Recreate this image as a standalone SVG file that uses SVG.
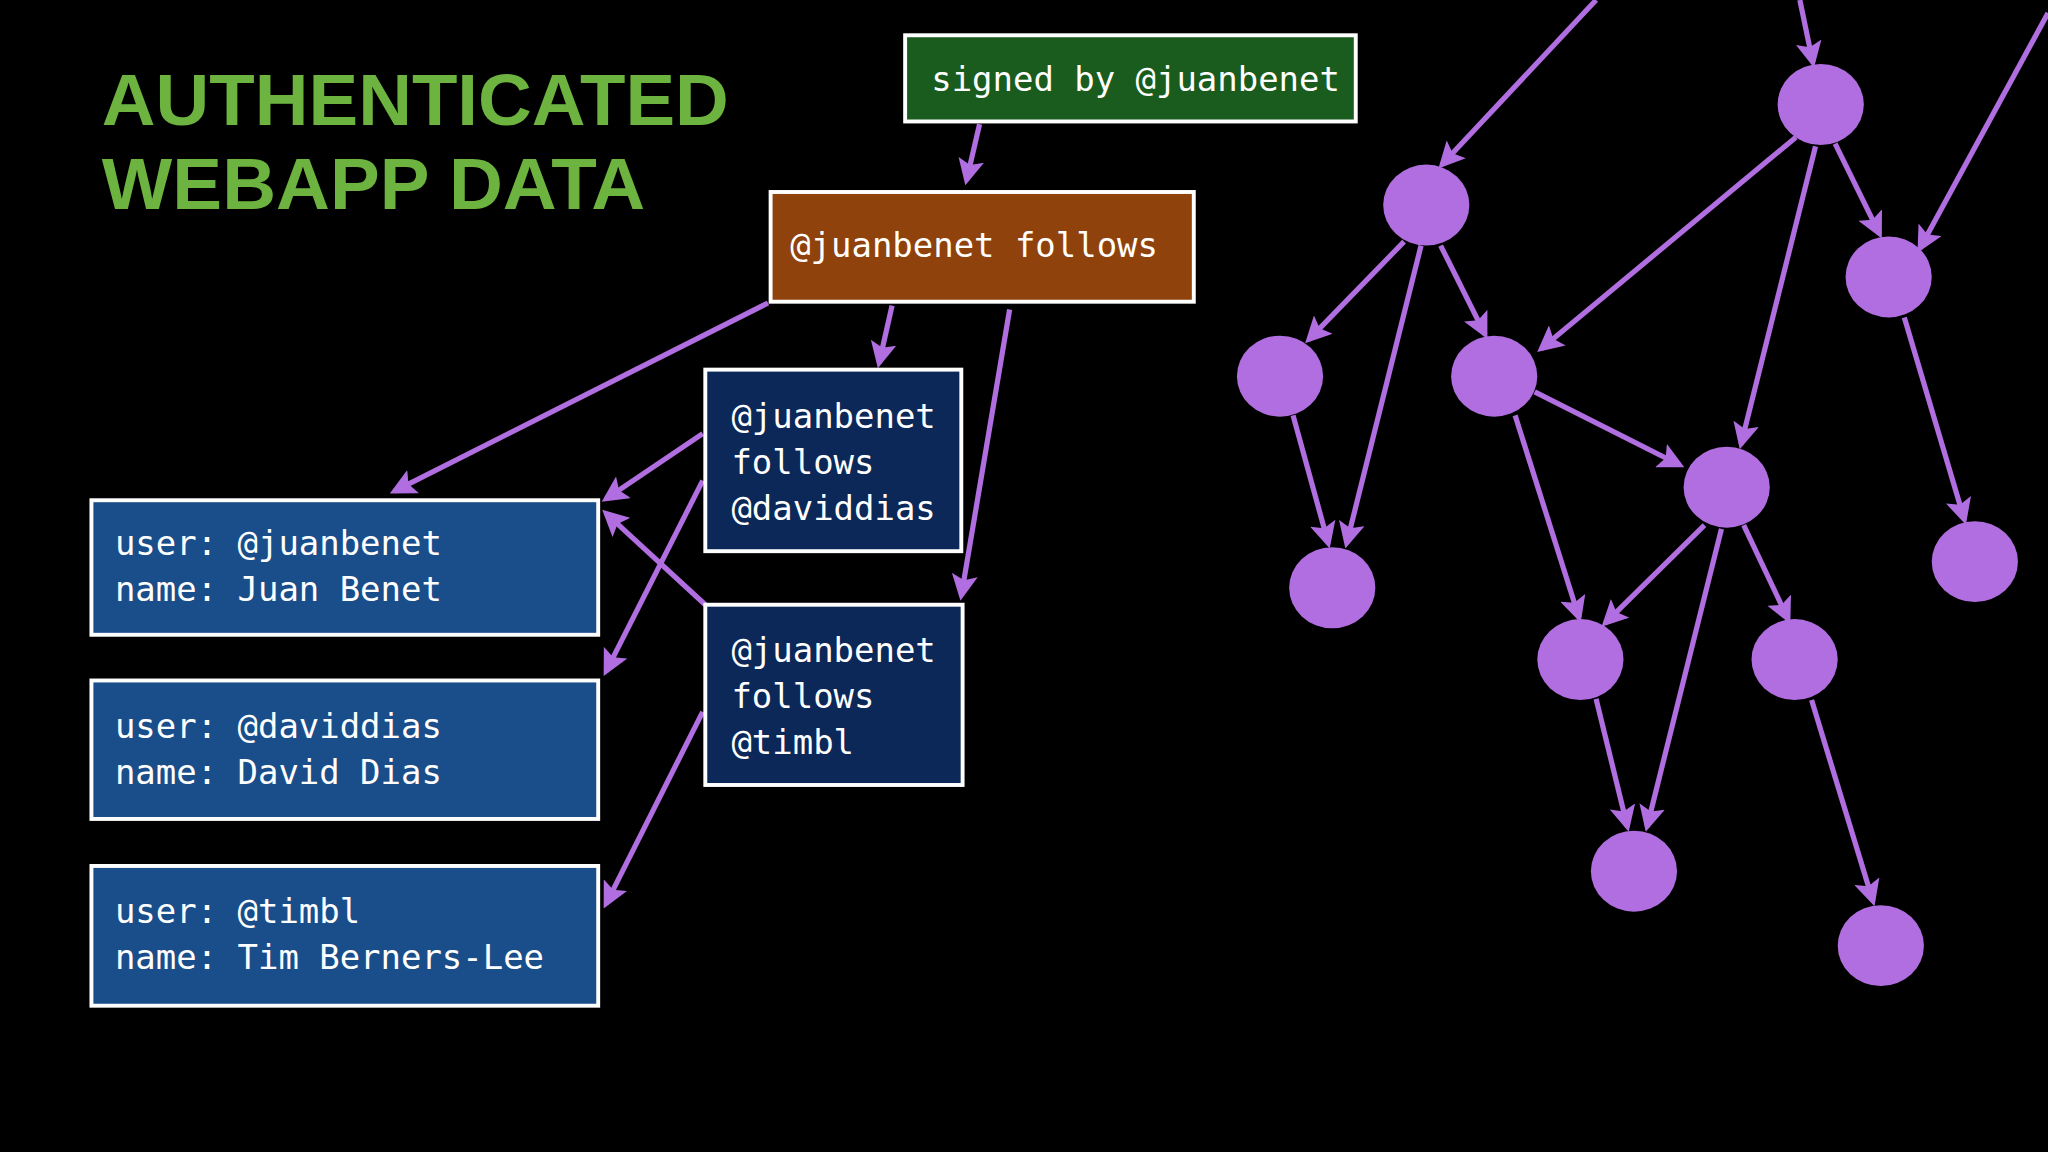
<svg xmlns="http://www.w3.org/2000/svg" width="2048" height="1152" viewBox="0 0 2048 1152">
<style>
.t{font-family:"DejaVu Sans Mono","Liberation Mono",monospace;font-size:26px;fill:#fff}
.b{stroke:#fff;stroke-width:3}
.e{stroke:#b06ee0;stroke-width:4;fill:none;marker-end:url(#a)}
.n{fill:#b06ee0}
</style>
<defs><marker id="a" viewBox="0 0 10 10" refX="8" refY="5" markerWidth="5" markerHeight="5" orient="auto" markerUnits="strokeWidth"><path d="M0,0L10,5L0,10L2,5z" fill="#b06ee0"/></marker></defs>
<rect width="2048" height="1152" fill="#000"/>
<g transform="scale(1.30612)">
<g id="title" font-family="Liberation Sans,Arial,sans-serif" font-weight="bold" font-size="56" fill="#6db33f">
<text x="78" y="96" textLength="480" lengthAdjust="spacingAndGlyphs">AUTHENTICATED</text>
<text x="78" y="160" textLength="416" lengthAdjust="spacingAndGlyphs">WEBAPP DATA</text>
</g>
<g id="connectors">
<line class="e" x1="750" y1="95" x2="740" y2="138"/>
<line class="e" x1="588" y1="232" x2="302" y2="376"/>
<line class="e" x1="683" y1="234" x2="673" y2="278"/>
<line class="e" x1="773" y1="237" x2="736" y2="456"/>
<line class="e" x1="538" y1="332" x2="464" y2="382"/>
<line class="e" x1="538" y1="368" x2="464" y2="514"/>
<line class="e" x1="540" y1="463" x2="464" y2="393"/>
<line class="e" x1="538" y1="545" x2="464" y2="692"/>
<line class="e" x1="1222" y1="0" x2="1104" y2="126"/>
<line class="e" x1="1378" y1="0" x2="1388" y2="48"/>
<line class="e" x1="1568" y1="10" x2="1470" y2="190"/>
<line class="e" x1="1075" y1="185" x2="1002" y2="260"/>
<line class="e" x1="1088" y1="188" x2="1031" y2="416"/>
<line class="e" x1="1103" y1="188" x2="1137" y2="256"/>
<line class="e" x1="1375" y1="105" x2="1180" y2="267"/>
<line class="e" x1="1405" y1="110" x2="1439" y2="179"/>
<line class="e" x1="1390" y1="112" x2="1333" y2="340"/>
<line class="e" x1="990" y1="318" x2="1017" y2="416"/>
<line class="e" x1="1175" y1="300" x2="1286" y2="356"/>
<line class="e" x1="1160" y1="318" x2="1209" y2="473"/>
<line class="e" x1="1458" y1="243" x2="1504" y2="398"/>
<line class="e" x1="1305" y1="402" x2="1229" y2="477"/>
<line class="e" x1="1318" y1="405" x2="1261" y2="633"/>
<line class="e" x1="1335" y1="402" x2="1369" y2="474"/>
<line class="e" x1="1222" y1="535" x2="1246" y2="633"/>
<line class="e" x1="1387" y1="536" x2="1434" y2="690"/>
</g>
<g id="signed"><rect class="b" x="693" y="27" width="345" height="66" fill="#1a5c1e"/><text class="t" x="713" y="70">signed by @juanbenet</text></g>
<g id="follows"><rect class="b" x="590" y="147" width="324" height="84" fill="#8f420c"/><text class="t" x="605" y="197">@juanbenet follows</text></g>
<g id="fdavid"><rect class="b" x="540" y="283" width="196" height="139" fill="#0b2858"/><text class="t" x="560" y="328">@juanbenet</text><text class="t" x="560" y="363">follows</text><text class="t" x="560" y="398">@daviddias</text></g>
<g id="ftimbl"><rect class="b" x="540" y="463" width="197" height="138" fill="#0b2858"/><text class="t" x="560" y="507">@juanbenet</text><text class="t" x="560" y="542">follows</text><text class="t" x="560" y="577">@timbl</text></g>
<g id="u1"><rect class="b" x="70" y="383" width="388" height="103" fill="#1a4e8a"/><text class="t" x="88" y="425">user: @juanbenet</text><text class="t" x="88" y="460">name: Juan Benet</text></g>
<g id="u2"><rect class="b" x="70" y="521" width="388" height="106" fill="#1a4e8a"/><text class="t" x="88" y="565">user: @daviddias</text><text class="t" x="88" y="600">name: David Dias</text></g>
<g id="u3"><rect class="b" x="70" y="663" width="388" height="107" fill="#1a4e8a"/><text class="t" x="88" y="707">user: @timbl</text><text class="t" x="88" y="742">name: Tim Berners-Lee</text></g>
<g id="graph">
<ellipse class="n" cx="1092" cy="157" rx="33" ry="31"/>
<ellipse class="n" cx="1394" cy="80" rx="33" ry="31"/>
<ellipse class="n" cx="980" cy="288" rx="33" ry="31"/>
<ellipse class="n" cx="1144" cy="288" rx="33" ry="31"/>
<ellipse class="n" cx="1446" cy="212" rx="33" ry="31"/>
<ellipse class="n" cx="1322" cy="373" rx="33" ry="31"/>
<ellipse class="n" cx="1020" cy="450" rx="33" ry="31"/>
<ellipse class="n" cx="1512" cy="430" rx="33" ry="31"/>
<ellipse class="n" cx="1210" cy="505" rx="33" ry="31"/>
<ellipse class="n" cx="1374" cy="505" rx="33" ry="31"/>
<ellipse class="n" cx="1251" cy="667" rx="33" ry="31"/>
<ellipse class="n" cx="1440" cy="724" rx="33" ry="31"/>
</g>
</g>
</svg>
